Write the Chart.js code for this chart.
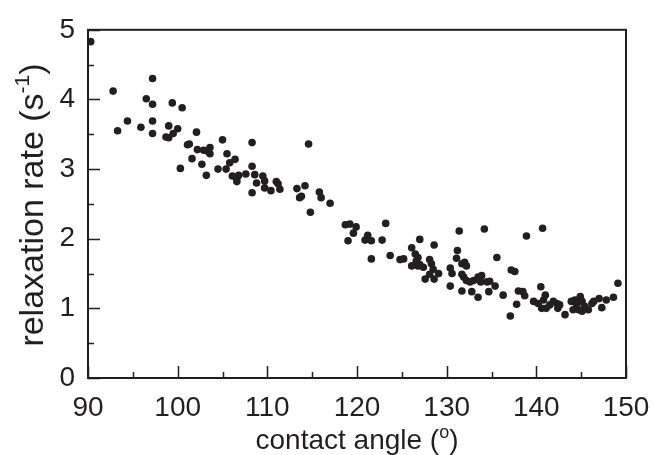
<!DOCTYPE html>
<html>
<head>
<meta charset="utf-8">
<script src="https://cdn.jsdelivr.net/npm/chart.js@4.4.1/dist/chart.umd.min.js"></script>
<style>
  html, body { margin: 0; padding: 0; background: #fff; }
  #wrap { width: 654px; height: 455px; }
</style>
</head>
<body>
<div id="wrap"><canvas id="rateChart" width="654" height="455"></canvas></div>
<script>
// contact angle (deg) and relaxation rate (1/s), one entry per droplet
const angle = [
  90.3, 92.8, 97.2, 96.5, 97.2, 99.4, 100.5, 94.4, 93.3, 95.9,
  97.2, 97.2, 99.0, 98.7, 99.0, 99.5, 100.0, 102.1, 101.1, 101.3,
  101.6, 102.2, 102.9, 105.0, 108.3, 114.6, 103.3, 103.6, 103.6, 105.5,
  102.7, 103.2, 104.5, 105.4, 105.8, 106.4, 106.1, 106.6, 106.6, 106.8,
  107.6, 108.3, 108.6, 108.8, 109.5, 109.7, 109.7, 110.4, 111.0, 111.4,
  111.2, 108.3, 113.3, 114.2, 113.6, 113.8, 114.8, 115.8, 116.0, 117.0,
  118.7, 119.2, 119.9, 119.6, 119.0, 120.9, 121.2, 121.6, 123.2, 122.8,
  121.6, 123.7, 124.8, 125.2, 126.1, 126.5, 126.8, 126.1, 127.0, 131.4,
  134.2, 138.9, 128.6, 126.8, 126.6, 127.0, 127.4, 128.1, 128.3, 128.5,
  129.1, 128.1, 127.6, 128.6, 131.2, 131.1, 130.4, 130.6, 130.4, 131.7,
  132.0, 132.2, 131.7, 131.9, 132.2, 132.6, 133.0, 133.5, 133.9, 133.8,
  134.5, 134.8, 135.4, 134.7, 133.5, 132.8, 131.7, 135.6, 137.2, 137.6,
  136.3, 138.0, 138.5, 138.7, 137.8, 137.1, 140.7, 140.5, 139.7, 140.2,
  140.8, 141.0, 140.6, 141.1, 141.5, 141.9, 142.3, 142.6, 142.4, 143.2,
  143.9, 144.3, 144.9, 144.7, 144.1, 144.7, 145.1, 145.4, 145.8, 146.2,
  145.1, 144.5, 146.4, 147.0, 147.3, 147.8, 148.6, 149.1, 100.3
];
const rate = [
  4.83, 4.12, 4.30, 4.01, 3.93, 3.95, 3.88, 3.69, 3.55, 3.60,
  3.69, 3.51, 3.62, 3.46, 3.45, 3.51, 3.58, 3.53, 3.35, 3.36,
  3.15, 3.28, 3.27, 3.42, 3.38, 3.36, 3.26, 3.31, 3.22, 3.22,
  3.07, 2.91, 3.00, 3.00, 3.09, 3.14, 2.90, 2.87, 2.82, 2.91,
  2.93, 3.04, 2.92, 2.80, 2.90, 2.83, 2.73, 2.69, 2.82, 2.71,
  2.79, 2.66, 2.72, 2.76, 2.59, 2.61, 2.38, 2.67, 2.59, 2.51,
  2.20, 2.21, 2.17, 2.08, 1.97, 1.98, 2.05, 1.97, 2.22, 1.98,
  1.71, 1.76, 1.70, 1.71, 1.87, 1.78, 1.61, 1.61, 1.99, 2.11,
  2.14, 2.04, 1.91, 1.73, 1.68, 1.63, 1.59, 1.70, 1.64, 1.56,
  1.50, 1.49, 1.42, 1.42, 1.83, 1.72, 1.58, 1.50, 1.32, 1.64,
  1.66, 1.61, 1.49, 1.45, 1.40, 1.38, 1.40, 1.45, 1.47, 1.38,
  1.38, 1.39, 1.32, 1.24, 1.16, 1.24, 1.25, 1.73, 1.55, 1.53,
  1.19, 1.25, 1.24, 1.18, 1.06, 0.89, 2.15, 1.31, 1.10, 1.07,
  1.12, 1.19, 1.00, 1.00, 1.05, 1.10, 1.07, 1.05, 1.00, 0.91,
  1.10, 1.12, 1.17, 1.10, 0.98, 0.98, 0.96, 1.03, 0.98, 1.07,
  1.10, 1.05, 1.10, 1.14, 1.01, 1.12, 1.16, 1.36, 3.01
];
const xTicks = [90, 100, 110, 120, 130, 140, 150];
const yTicks = [0, 1, 2, 3, 4, 5];

const ink = '#231f20';
const fontFamily = '"Liberation Sans", Arial, Helvetica, sans-serif';

// writes "main" + raised "sup" + "tail" centred on (0, 0)
function drawSupTitle(ctx, main, sup, tail, size, supSize, rise) {
    const big = size + 'px ' + fontFamily;
    const small = supSize + 'px ' + fontFamily;
    ctx.font = big;
    const wa = ctx.measureText(main).width;
    const wc = ctx.measureText(tail).width;
    ctx.font = small;
    const wb = ctx.measureText(sup).width;
    const x0 = -(wa + wb + wc) / 2;
    ctx.font = big;
    ctx.fillText(main, x0, 0);
    ctx.font = small;
    ctx.fillText(sup, x0 + wa, -rise);
    ctx.font = big;
    ctx.fillText(tail, x0 + wa + wb, 0);
}

// frame, inward tick marks and axis titles with superscripts
const framePlugin = {
    id: 'frame',
    afterDraw(chart) {
        const ctx = chart.ctx;
        const area = chart.chartArea;
        const xs = chart.scales.x;
        const ys = chart.scales.y;
        ctx.save();
        ctx.strokeStyle = ink;
        ctx.lineWidth = 2;
        ctx.strokeRect(area.left, area.top, area.right - area.left, area.bottom - area.top);

        ctx.beginPath();
        for (let v = xs.min; v <= xs.max + 0.001; v += 5) {
            const px = Math.round(xs.getPixelForValue(v)) + 0.5;
            const len = (v % 10 === 0) ? 12 : 6;
            ctx.moveTo(px, area.bottom);
            ctx.lineTo(px, area.bottom - len);
        }
        for (let v = ys.min; v <= ys.max + 0.001; v += 0.5) {
            const py = Math.round(ys.getPixelForValue(v)) + 0.5;
            const len = (Math.abs(v - Math.round(v)) < 0.01) ? 12 : 6;
            ctx.moveTo(area.left, py);
            ctx.lineTo(area.left + len, py);
        }
        ctx.lineWidth = 1.5;
        ctx.stroke();

        ctx.fillStyle = ink;
        ctx.textBaseline = 'alphabetic';

        ctx.save();
        ctx.translate((area.left + area.right) / 2, 449);
        drawSupTitle(ctx, 'contact angle (', 'o', ')', 28, 18, 11);
        ctx.restore();

        ctx.save();
        ctx.translate(43, 205);
        ctx.rotate(-Math.PI / 2);
        drawSupTitle(ctx, 'relaxation rate (s', '-1', ')', 34, 21, 14);
        ctx.restore();

        ctx.restore();
    }
};

const ctx = document.getElementById('rateChart').getContext('2d');
const rateChart = new Chart(ctx, {
    type: 'scatter',
    data: {
        datasets: [{
            label: 'relaxation rate',
            data: angle.map((a, i) => ({ x: a, y: rate[i] })),
            backgroundColor: ink,
            borderWidth: 0,
            pointRadius: 3.8,
            pointHoverRadius: 3.8
        }]
    },
    options: {
        responsive: false,
        animation: false,
        events: [],
        layout: { padding: { left: 0, right: 28, top: 23, bottom: 0 } },
        plugins: { legend: { display: false }, tooltip: { enabled: false } },
        scales: {
            x: {
                type: 'linear',
                min: 90,
                max: 150,
                afterFit: scale => {
                    scale.height = 77;
                    scale.paddingLeft = 0;
                    scale.paddingRight = 0;
                },
                afterBuildTicks: scale => { scale.ticks = xTicks.map(v => ({ value: v })); },
                grid: { display: false, drawTicks: false },
                border: { display: false },
                ticks: { color: ink, padding: 13, maxRotation: 0, font: { size: 28, family: fontFamily } }
            },
            y: {
                type: 'linear',
                min: 0,
                max: 5,
                afterFit: scale => { scale.width = 88; },
                afterBuildTicks: scale => { scale.ticks = yTicks.map(v => ({ value: v })); },
                grid: { display: false, drawTicks: false },
                border: { display: false },
                ticks: { color: ink, padding: 13, font: { size: 28, family: fontFamily } }
            }
        }
    },
    plugins: [framePlugin]
});
</script>
</body>
</html>
